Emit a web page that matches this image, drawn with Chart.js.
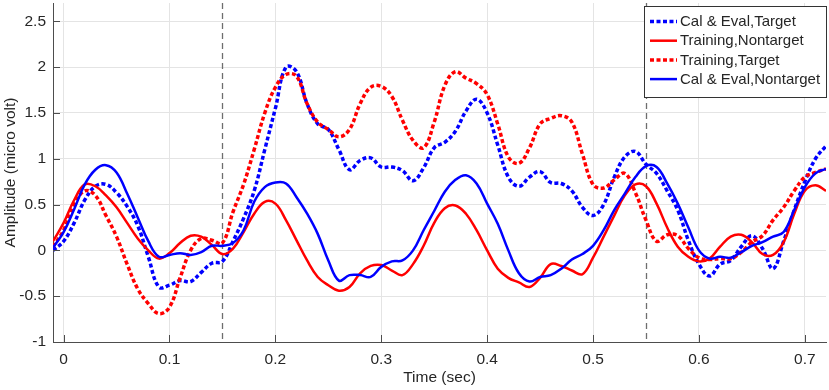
<!DOCTYPE html>
<html>
<head>
<meta charset="utf-8">
<title>ERP amplitude</title>
<script src="https://cdn.jsdelivr.net/npm/chart.js@4.4.1/dist/chart.umd.min.js"></script>
<style>
  html, body { margin: 0; padding: 0; background: #fff; }
</style>
</head>
<body>
<canvas id="erp-chart" width="829" height="390"></canvas>
<script>
// Time axis (sec)
const times = [-0.01, 0, 0.01, 0.02, 0.03, 0.04, 0.05, 0.06, 0.07, 0.08, 0.09,
  0.10, 0.11, 0.12, 0.13, 0.14, 0.15, 0.16, 0.17, 0.18, 0.19,
  0.20, 0.21, 0.22, 0.23, 0.24, 0.25, 0.26, 0.27, 0.28, 0.29,
  0.30, 0.31, 0.32, 0.33, 0.34, 0.35, 0.36, 0.37, 0.38, 0.39,
  0.40, 0.41, 0.42, 0.43, 0.44, 0.45, 0.46, 0.47, 0.48, 0.49,
  0.50, 0.51, 0.52, 0.53, 0.54, 0.55, 0.56, 0.57, 0.58, 0.59,
  0.60, 0.61, 0.62, 0.63, 0.64, 0.65, 0.66, 0.67, 0.68, 0.69,
  0.70, 0.71, 0.72];

// Amplitudes (micro volt)
const calEvalTarget = [0.0, 0.1, 0.3, 0.55, 0.7, 0.72, 0.63, 0.48, 0.27, -0.07, -0.4,
  -0.38, -0.33, -0.34, -0.24, -0.14, -0.12, 0.1, 0.35, 0.65, 1.1,
  1.55, 2.0, 1.95, 1.6, 1.38, 1.32, 1.1, 0.88, 0.98, 1.01,
  0.91, 0.91, 0.87, 0.76, 0.9, 1.12, 1.18, 1.3, 1.52, 1.65,
  1.5, 1.15, 0.8, 0.7, 0.8, 0.86, 0.74, 0.73, 0.65, 0.47,
  0.38, 0.5, 0.8, 1.02, 1.08, 0.94, 0.84, 0.65, 0.44, 0.11,
  -0.15, -0.28, -0.15, -0.11, 0.04, 0.16, 0.02, -0.2, 0.1, 0.44,
  0.75, 1.0, 1.14];

const trainingNontarget = [0.1, 0.3, 0.55, 0.72, 0.7, 0.6, 0.47, 0.3, 0.13, 0.0, -0.09,
  -0.03, 0.08, 0.16, 0.15, 0.06, -0.04, 0.02, 0.2, 0.4, 0.53,
  0.51, 0.33, 0.11, -0.11, -0.29, -0.38, -0.44, -0.4, -0.25, -0.17,
  -0.16, -0.22, -0.27, -0.15, 0.05, 0.3, 0.46, 0.49, 0.4, 0.22,
  0.0, -0.2, -0.3, -0.35, -0.4, -0.3, -0.15, -0.17, -0.22, -0.26,
  -0.08, 0.15, 0.38, 0.6, 0.72, 0.7, 0.51, 0.25, 0.04, -0.07,
  -0.12, -0.09, 0.04, 0.15, 0.17, 0.09, -0.04, -0.05, 0.09, 0.4,
  0.65, 0.71, 0.65];

const trainingTarget = [0.04, 0.22, 0.5, 0.65, 0.6, 0.38, 0.15, -0.15, -0.42, -0.58, -0.69,
  -0.62, -0.3, 0.0, 0.13, 0.11, 0.08, 0.42, 0.72, 1.1, 1.5,
  1.78, 1.92, 1.9, 1.6, 1.4, 1.32, 1.24, 1.32, 1.6, 1.78,
  1.79, 1.68, 1.42, 1.2, 1.12, 1.4, 1.8, 1.95, 1.88, 1.82,
  1.7, 1.38, 1.02, 0.95, 1.12, 1.38, 1.44, 1.47, 1.4, 1.05,
  0.72, 0.68, 0.77, 0.84, 0.63, 0.33, 0.1, 0.17, 0.16, 0.02,
  -0.08, -0.1, -0.09, -0.09, -0.02, 0.09, 0.16, 0.33, 0.47, 0.65,
  0.8, 0.85, 0.89];

const calEvalNontarget = [0.03, 0.2, 0.45, 0.72, 0.88, 0.93, 0.85, 0.62, 0.36, 0.1, -0.07,
  -0.05, -0.03, -0.05, -0.02, 0.05, 0.05, 0.08, 0.22, 0.53, 0.69,
  0.74, 0.73, 0.58, 0.4, 0.18, -0.11, -0.33, -0.27, -0.27, -0.29,
  -0.18, -0.12, -0.11, 0.0, 0.22, 0.43, 0.64, 0.77, 0.82, 0.73,
  0.51, 0.29, 0.0, -0.25, -0.34, -0.29, -0.27, -0.2, -0.1, -0.04,
  0.05, 0.22, 0.44, 0.62, 0.8, 0.92, 0.91, 0.73, 0.51, 0.25,
  0.0, -0.09, -0.07, -0.08, -0.02, 0.05, 0.09, 0.15, 0.2, 0.44,
  0.69, 0.84, 0.89];

const seriesLabels = ['Cal & Eval,Target', 'Training,Nontarget', 'Training,Target', 'Cal & Eval,Nontarget'];
const xTicks = [0, 0.1, 0.2, 0.3, 0.4, 0.5, 0.6, 0.7];
const yTicks = [-1, -0.5, 0, 0.5, 1, 1.5, 2, 2.5];
const markerTimes = [0.15, 0.55];

const FONT = "'Liberation Sans', Arial, Helvetica, sans-serif";
const TEXT = '#262626';
const AXIS = '#4d4d4d';
const BLUE = '#0000ff';
const RED = '#ff0000';
const DOT = [4, 2.5];

function toPoints(ys) {
    return times.map((t, i) => ({ x: t, y: ys[i] }));
}

function fmt(v) {
    return String(Math.round(v * 100) / 100);
}

// dashed stimulus markers, inward ticks, legend box
const extras = {
    id: 'extras',
    beforeDatasetsDraw(chart) {
        const { ctx, chartArea, scales } = chart;
        ctx.save();
        ctx.strokeStyle = '#6e6e6e';
        ctx.lineWidth = 1.3;
        ctx.setLineDash([6, 4]);
        markerTimes.forEach(t => {
            const px = Math.round(scales.x.getPixelForValue(t)) + 0.5;
            ctx.beginPath();
            ctx.moveTo(px, chartArea.top);
            ctx.lineTo(px, chartArea.bottom);
            ctx.stroke();
        });
        ctx.restore();
    },
    afterDraw(chart) {
        const { ctx, chartArea, scales } = chart;
        ctx.save();
        // ticks pointing into the axes
        ctx.strokeStyle = AXIS;
        ctx.lineWidth = 1;
        xTicks.forEach(v => {
            const px = Math.round(scales.x.getPixelForValue(v)) + 0.5;
            ctx.beginPath();
            ctx.moveTo(px, chartArea.bottom);
            ctx.lineTo(px, chartArea.bottom - 7);
            ctx.stroke();
        });
        yTicks.forEach(v => {
            const py = Math.round(scales.y.getPixelForValue(v)) + 0.5;
            ctx.beginPath();
            ctx.moveTo(chartArea.left, py);
            ctx.lineTo(chartArea.left + 7, py);
            ctx.stroke();
        });

        // legend
        const bx = 644.5, by = 6.5, bw = 182, bh = 91;
        ctx.fillStyle = '#fff';
        ctx.fillRect(bx, by, bw, bh);
        ctx.strokeStyle = '#333';
        ctx.strokeRect(bx, by, bw, bh);
        ctx.font = '15px ' + FONT;
        ctx.textBaseline = 'middle';
        chart.data.datasets.forEach((ds, i) => {
            const y = 21.5 + i * 19.2;
            ctx.strokeStyle = ds.borderColor;
            ctx.lineWidth = ds.borderWidth;
            ctx.setLineDash(ds.borderDash || []);
            ctx.beginPath();
            ctx.moveTo(650, y);
            ctx.lineTo(677, y);
            ctx.stroke();
            ctx.setLineDash([]);
            ctx.fillStyle = TEXT;
            ctx.fillText(ds.label, 680, y + 0.5);
        });
        ctx.restore();
    }
};

const ctx = document.getElementById('erp-chart').getContext('2d');

const erpChart = new Chart(ctx, {
    type: 'line',
    data: {
        datasets: [
            {
                label: seriesLabels[0],
                data: toPoints(calEvalTarget),
                borderColor: BLUE,
                borderWidth: 3.5,
                borderDash: DOT,
                order: 4
            },
            {
                label: seriesLabels[1],
                data: toPoints(trainingNontarget),
                borderColor: RED,
                borderWidth: 2.5,
                order: 3
            },
            {
                label: seriesLabels[2],
                data: toPoints(trainingTarget),
                borderColor: RED,
                borderWidth: 3.5,
                borderDash: DOT,
                order: 2
            },
            {
                label: seriesLabels[3],
                data: toPoints(calEvalNontarget),
                borderColor: BLUE,
                borderWidth: 2.5,
                order: 1
            }
        ]
    },
    options: {
        responsive: false,
        animation: false,
        events: [],
        layout: { padding: { left: 0, top: 3, right: 3, bottom: 0 } },
        elements: {
            point: { radius: 0 },
            line: { tension: 0.4, fill: false, borderCapStyle: 'butt' }
        },
        plugins: {
            legend: { display: false },
            tooltip: { enabled: false }
        },
        scales: {
            x: {
                type: 'linear',
                min: -0.01,
                max: 0.72,
                afterBuildTicks: s => { s.ticks = xTicks.map(v => ({ value: v })); },
                afterFit: s => { s.height = 48; s.paddingLeft = 0; s.paddingRight = 0; },
                ticks: {
                    autoSkip: false,
                    maxRotation: 0,
                    padding: 8,
                    color: TEXT,
                    font: { family: FONT, size: 15.5 },
                    callback: v => fmt(v)
                },
                grid: { color: '#e4e4e4', drawTicks: false },
                border: { display: true, color: AXIS },
                title: {
                    display: true,
                    text: 'Time (sec)',
                    color: TEXT,
                    font: { family: FONT, size: 15.5 },
                    padding: { top: 0, bottom: 3 }
                }
            },
            y: {
                min: -1,
                max: 2.7,
                afterBuildTicks: s => { s.ticks = yTicks.map(v => ({ value: v })); },
                afterFit: s => { s.width = 53; s.paddingTop = 0; s.paddingBottom = 0; },
                ticks: {
                    autoSkip: false,
                    padding: 7,
                    color: TEXT,
                    font: { family: FONT, size: 15.5 },
                    callback: v => fmt(v)
                },
                grid: { color: '#e4e4e4', drawTicks: false },
                border: { display: true, color: AXIS },
                title: {
                    display: true,
                    text: 'Amplitude (micro volt)',
                    color: TEXT,
                    font: { family: FONT, size: 15.5 },
                    padding: { top: 1, bottom: 0 }
                }
            }
        }
    },
    plugins: [extras]
});
</script>
</body>
</html>
